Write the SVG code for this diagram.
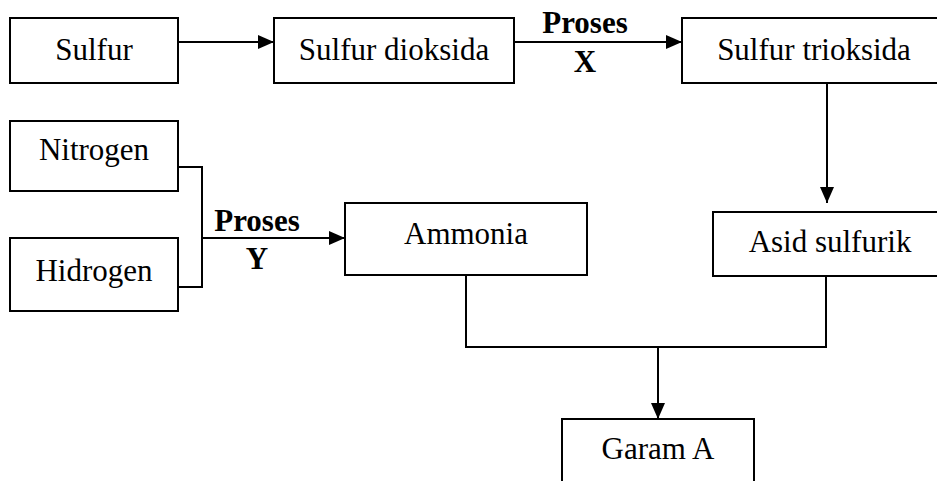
<svg xmlns="http://www.w3.org/2000/svg" width="937" height="481" viewBox="0 0 937 481">
  <style>
    .box { fill: #fff; stroke: #000; stroke-width: 2; }
    .lbl { font-family: "Liberation Serif", "Times New Roman", serif; font-size: 31px; fill: #000; text-anchor: middle; }
    .bold { font-weight: bold; }
    .wire { fill: none; stroke: #000; stroke-width: 2; }
  </style>
  <defs>
    <marker id="arr" markerUnits="userSpaceOnUse" markerWidth="16" markerHeight="14" refX="16" refY="7" orient="auto">
      <path d="M0,0 L16,7 L0,14 z" fill="#000"/>
    </marker>
  </defs>
  <rect width="937" height="481" fill="#fff"/>

  <g id="connectors">
    <line class="wire" x1="178" y1="42" x2="274" y2="42" marker-end="url(#arr)"/>
    <line class="wire" x1="514" y1="42" x2="682" y2="42" marker-end="url(#arr)"/>
    <line class="wire" x1="827" y1="83" x2="827" y2="203" marker-end="url(#arr)"/>
    <polyline class="wire" points="178,167 202,167 202,287 178,287"/>
    <line class="wire" x1="202" y1="238" x2="345" y2="238" marker-end="url(#arr)"/>
    <polyline class="wire" points="466,275 466,347 826,347 826,276"/>
    <line class="wire" x1="658" y1="347" x2="658" y2="419" marker-end="url(#arr)"/>
    <text class="lbl bold" x="585" y="33">Proses</text>
    <text class="lbl bold" x="585" y="72">X</text>
    <text class="lbl bold" x="257" y="231">Proses</text>
    <text class="lbl bold" x="257" y="269">Y</text>
  </g>

  <g id="sulfur">
    <rect class="box" x="10" y="18" width="168" height="65"/>
    <text class="lbl" x="94" y="60">Sulfur</text>
  </g>
  <g id="sulfur-dioksida">
    <rect class="box" x="274" y="18" width="240" height="65"/>
    <text class="lbl" x="394" y="60">Sulfur dioksida</text>
  </g>
  <g id="sulfur-trioksida">
    <rect class="box" x="682" y="18" width="270" height="65"/>
    <text class="lbl" x="814" y="60">Sulfur trioksida</text>
  </g>
  <g id="nitrogen">
    <rect class="box" x="10" y="121" width="168" height="70"/>
    <text class="lbl" x="94" y="160">Nitrogen</text>
  </g>
  <g id="hidrogen">
    <rect class="box" x="10" y="238" width="168" height="73"/>
    <text class="lbl" x="94" y="281">Hidrogen</text>
  </g>
  <g id="ammonia">
    <rect class="box" x="345" y="203" width="242" height="72"/>
    <text class="lbl" x="466" y="244">Ammonia</text>
  </g>
  <g id="asid-sulfurik">
    <rect class="box" x="713" y="212" width="240" height="64"/>
    <text class="lbl" x="830" y="252">Asid sulfurik</text>
  </g>
  <g id="garam-a">
    <rect class="box" x="562" y="419" width="192" height="80"/>
    <text class="lbl" x="658" y="459">Garam A</text>
  </g>
</svg>
